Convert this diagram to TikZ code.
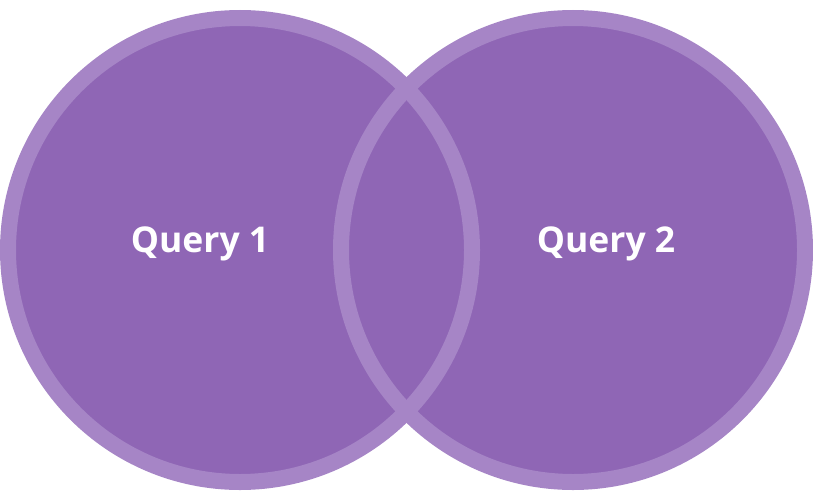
\documentclass[tikz,border=0pt]{standalone}
\usepackage{fontspec}
\setsansfont{Open Sans}
\definecolor{setfill}{HTML}{8F66B5}
\definecolor{setring}{HTML}{A685C6}
\tikzset{x=1pt,y=-1pt,
  setdisc/.style={circle,fill=setfill,minimum size=464pt,inner sep=0pt,outer sep=0pt},
  setring/.style={circle,draw=setring,line width=16pt,minimum size=464pt,inner sep=0pt,outer sep=0pt},
  setlabel/.style={text=white,font=\sffamily\bfseries\fontsize{35.5}{38}\selectfont}}

\begin{document}
\begin{tikzpicture}
  \useasboundingbox (0,0) rectangle (813,503);
  \node [setdisc] (q1) at (240,250) {};
  \node [setdisc] (q2) at (573,250) {};
  \node [setring] (q1ring) at (q1) {};
  \node [setring] (q2ring) at (q2) {};

  \node [setlabel] (q1text) at (200,244) {Query 1};
  \node [setlabel] (q2text) at (606,244) {Query 2};
\end{tikzpicture}
\end{document}
